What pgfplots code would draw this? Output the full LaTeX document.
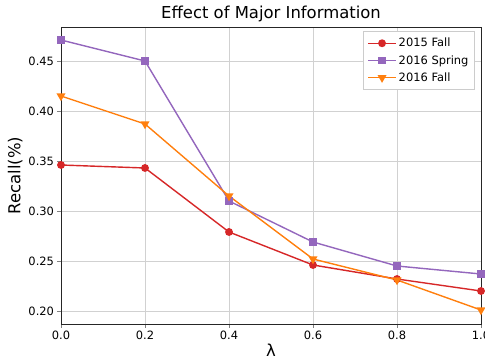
\documentclass[border=0pt]{standalone}
\usepackage{pgfplots}
\pgfplotsset{compat=1.18}
\usepackage{fontspec}
\setmainfont{DejaVu Sans}
\definecolor{cred}{HTML}{D62728}
\definecolor{cpurple}{HTML}{9467BD}
\definecolor{corange}{HTML}{FF7F0E}
\pgfdeclareplotmark{tridown}{%
  \pgfpathmoveto{\pgfqpoint{0pt}{-\pgfplotmarksize}}%
  \pgfpathlineto{\pgfqpoint{0.866\pgfplotmarksize}{0.5\pgfplotmarksize}}%
  \pgfpathlineto{\pgfqpoint{-0.866\pgfplotmarksize}{0.5\pgfplotmarksize}}%
  \pgfpathclose\pgfusepathqfillstroke}
\begin{document}
\begin{tikzpicture}
\begin{axis}[
  at={(0,0)}, anchor=south west,
  scale only axis, width=420bp, height=297bp,
  xmin=0, xmax=1.0, ymin=0.187, ymax=0.484,
  xtick={0,0.2,0.4,0.6,0.8,1.0},
  xticklabels={0.0,0.2,0.4,0.6,0.8,1.0},
  ytick={0.20,0.25,0.30,0.35,0.40,0.45},
  yticklabels={0.20,0.25,0.30,0.35,0.40,0.45},
  tick label style={font=\fontsize{11.5}{13}\selectfont},
  tick align=outside, tick pos=left,
  major tick length=3.5bp,
  grid=major, grid style={color=black!18, line width=0.8bp},
  axis line style={line width=0.8bp, black!85},
  title={Effect of Major Information},
  title style={font=\fontsize{16.5}{18}\selectfont, yshift=-4bp},
  xlabel={λ}, ylabel={Recall(\%)},
  label style={font=\fontsize{16.5}{18}\selectfont},
  xlabel style={yshift=3bp},
  ylabel style={yshift=-1bp},
  legend image code/.code={\draw[mark=none, line width=1.4bp] (0bp,0bp) -- (28bp,0bp); \draw[line width=1.4bp] plot coordinates {(14bp,0bp)};},
  legend style={font=\fontsize{11.5}{13}\selectfont, draw=black!20, fill=white, at={(0.985,0.985)}, anchor=north east, inner xsep=4bp, inner ysep=3bp, cells={anchor=west}, nodes={inner ysep=3.5bp}},
  every axis plot/.append style={line width=1.4bp},
]
\addplot[color=cred, mark=*, mark size=3.2bp] coordinates {
(0.0,0.346) (0.2,0.343) (0.4,0.279) (0.6,0.246) (0.8,0.232) (1.0,0.220)};
\addlegendentry{2015 Fall}
\addplot[color=cpurple, mark=square*, mark size=3bp] coordinates {
(0.0,0.471) (0.2,0.450) (0.4,0.310) (0.6,0.269) (0.8,0.245) (1.0,0.237)};
\addlegendentry{2016 Spring}
\addplot[color=corange, mark=tridown, mark size=3.8bp] coordinates {
(0.0,0.415) (0.2,0.387) (0.4,0.315) (0.6,0.252) (0.8,0.231) (1.0,0.201)};
\addlegendentry{2016 Fall}
\end{axis}
\pgfresetboundingbox
\path (-61bp,-36bp) rectangle (424bp,324bp);
\end{tikzpicture}
\end{document}
